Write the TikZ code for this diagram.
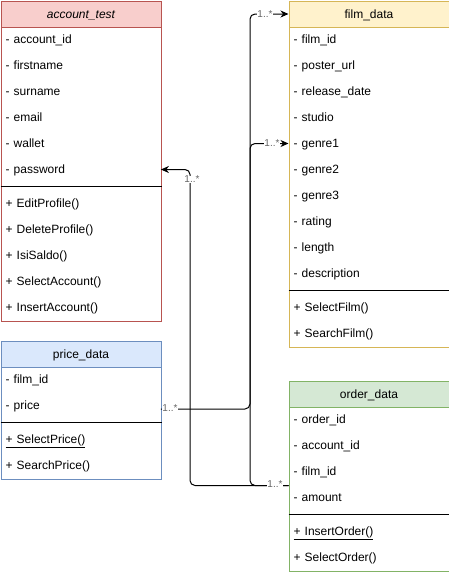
\documentclass[tikz,border=0pt]{standalone}
\usepackage{fontspec}
\setmainfont{Liberation Sans}
\usetikzlibrary{arrows.meta}
\definecolor{accFill}{HTML}{F8CECC}\definecolor{accLine}{HTML}{B85450}
\definecolor{filmFill}{HTML}{FFF2CC}\definecolor{filmLine}{HTML}{D6B656}
\definecolor{priceFill}{HTML}{DAE8FC}\definecolor{priceLine}{HTML}{6C8EBF}
\definecolor{orderFill}{HTML}{D5E8D4}\definecolor{orderLine}{HTML}{82B366}
\definecolor{multText}{HTML}{666666}
\begin{document}
\begin{tikzpicture}[x=1pt,y=-1pt,
  every node/.style={font=\fontsize{12pt}{14pt}\selectfont},
  classbox/.style={draw=#1, fill=white, line width=1pt, anchor=north west,
    minimum width=160pt, inner sep=0pt},
  classhead/.style={draw=#1, line width=1pt, anchor=north west,
    minimum width=160pt, minimum height=26pt, inner sep=0pt,
    text height=10pt, text depth=2pt},
  member/.style={anchor=west, minimum width=160pt, minimum height=26pt,
    inner xsep=5pt, inner ysep=0pt, text width=150pt, align=left,
    text height=10pt, text depth=2pt},
  divider/.style={line width=1pt, black},
  assoc/.style={line width=1pt, rounded corners=5pt,
    -{Stealth[length=8pt,width=7pt,inset=2.5pt]}},
  mult/.style={font=\fontsize{10pt}{12pt}\selectfont, text=multText,
    fill=white, inner sep=0.5pt},
]
\useasboundingbox (0,0) rectangle (449,574);

% account_test
\node[classbox=accLine, minimum height=320pt] (acc) at (0.5,0.5) {};
\node[classhead=accLine, fill=accFill] (accHead) at (acc.north west) {\itshape account\_test};
\foreach \t [count=\i] in {account\_id, firstname, surname, email, wallet, password}
  \node[member] (acc-\i) at (0.5, 13.5+26*\i) {- \t};
\draw[divider] (acc.west |- 0,186.5) -- (acc.east |- 0,186.5);
\foreach \t [count=\i] in {EditProfile(), DeleteProfile(), IsiSaldo(), SelectAccount(), InsertAccount()}
  \node[member] (accm-\i) at (0.5, 177.5+26*\i) {+ \t};

% film_data
\node[classbox=filmLine, minimum height=346pt] (film) at (288.5,0.5) {};
\node[classhead=filmLine, fill=filmFill] (filmHead) at (film.north west) {film\_data};
\foreach \t [count=\i] in {film\_id, poster\_url, release\_date, studio, genre1, genre2, genre3, rating, length, description}
  \node[member] (film-\i) at (288.5, 13.5+26*\i) {- \t};
\draw[divider] (film.west |- 0,290.5) -- (film.east |- 0,290.5);
\foreach \t [count=\i] in {SelectFilm(), SearchFilm()}
  \node[member] (filmm-\i) at (288.5, 281.5+26*\i) {+ \t};

% price_data
\node[classbox=priceLine, minimum height=138pt] (pr) at (0.5,340.5) {};
\node[classhead=priceLine, fill=priceFill] (prHead) at (pr.north west) {price\_data};
\foreach \t [count=\i] in {film\_id, price}
  \node[member] (pr-\i) at (0.5, 353.5+26*\i) {- \t};
\draw[divider] (pr.west |- 0,422.5) -- (pr.east |- 0,422.5);
\node[member] (prm-1) at (0.5, 439.5) {\underline{+ SelectPrice()}};
\node[member] (prm-2) at (0.5, 465.5) {+ SearchPrice()};

% order_data
\node[classbox=orderLine, minimum height=190pt] (ord) at (288.5,380.5) {};
\node[classhead=orderLine, fill=orderFill] (ordHead) at (ord.north west) {order\_data};
\foreach \t [count=\i] in {order\_id, account\_id, film\_id, amount}
  \node[member] (ord-\i) at (288.5, 393.5+26*\i) {- \t};
\draw[divider] (ord.west |- 0,514.5) -- (ord.east |- 0,514.5);
\node[member] (ordm-1) at (288.5, 531.5) {\underline{+ InsertOrder()}};
\node[member] (ordm-2) at (288.5, 557.5) {+ SelectOrder()};

% associations
\coordinate (filmBus) at (250,0);
\coordinate (accBus) at (190,0);
\draw[assoc] ([yshift=-3.5pt]pr-2.east) -| (filmBus |- filmHead.west) -- (filmHead.west);
\draw[assoc] ([yshift=-9.5pt]ord.west) -| (filmBus |- film-5.west) -- (film-5.west);
\draw[assoc] ([yshift=-9.5pt]ord.west) -| (accBus |- acc-6.east) -- (acc-6.east);

% multiplicities
\node[mult] (mPr) at (170,408.5) {1..*};
\node[mult] (mFilmHead) at (265,14) {1..*};
\node[mult] (mFilmG) at (272,143.5) {1..*};
\node[mult] (mAcc) at (192,179.5) {1..*};
\node[mult] (mOrd) at (275,484.5) {1..*};
\end{tikzpicture}
\end{document}
